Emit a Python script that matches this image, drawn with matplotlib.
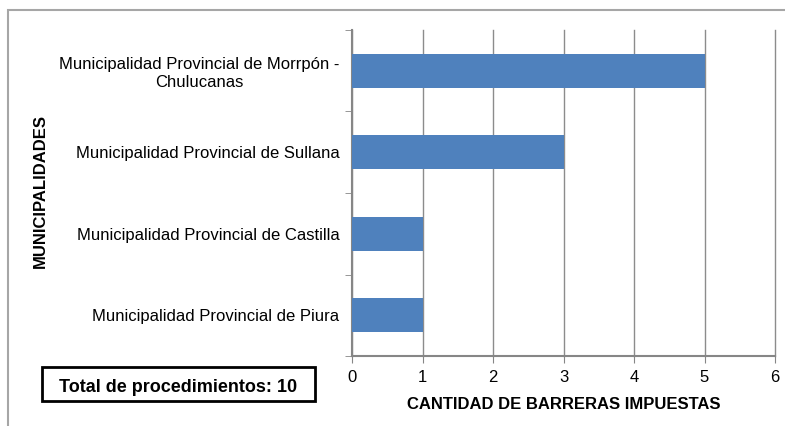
import matplotlib.pyplot as plt
from matplotlib.patches import Rectangle

plt.rcParams['font.family'] = ['Liberation Sans', 'DejaVu Sans']

# datos
municipalidades = [
    "Municipalidad Provincial de Piura",
    "Municipalidad Provincial de Castilla",
    "Municipalidad Provincial de Sullana",
    "Municipalidad Provincial de Morrpón -\nChulucanas",
]
barreras = [1, 1, 3, 5]
total_texto = "Total de procedimientos: 10"

W, H = 785, 426
fig = plt.figure(figsize=(W / 100, H / 100), dpi=100)
ax = fig.add_axes([352 / W, 1 - 356 / H, 423 / W, 326 / H])

pos = list(range(len(municipalidades)))
ax.barh(pos, barreras, height=0.42, color='#4F81BD', zorder=3)

ax.set_xlim(0, 6)
ax.set_ylim(-0.5, len(municipalidades) - 0.5)
ax.set_xticks(range(0, 7))
ax.tick_params(axis='x', length=5, color='#868686', labelsize=12, pad=5)
ax.grid(axis='x', color='#8C8C8C', linewidth=1, zorder=0)
for gl in ax.get_xgridlines():
    gl.set_clip_on(False)

# etiquetas del eje y entre marcas de separación
ax.set_yticks(pos)
ax.set_yticklabels(municipalidades, fontsize=12, multialignment='center')
ax.tick_params(axis='y', which='major', length=0, pad=9)
ax.set_yticks([p - 0.5 for p in pos] + [len(pos) - 0.5], minor=True)
ax.tick_params(axis='y', which='minor', length=5, color='#868686')

for s in ['top', 'right']:
    ax.spines[s].set_visible(False)
for s in ['left', 'bottom']:
    ax.spines[s].set_color('#868686')
    ax.spines[s].set_linewidth(1.5)

ax.set_xlabel("CANTIDAD DE BARRERAS IMPUESTAS", fontsize=12, fontweight='bold', labelpad=9)
fig.text(40 / W, 1 - 191 / H, "MUNICIPALIDADES", rotation=90, fontsize=12,
         fontweight='bold', ha='center', va='center')

# cuadro del total
fig.patches.append(Rectangle((42 / W, 1 - 401 / H), 273 / W, 34 / H, transform=fig.transFigure,
                             facecolor='white', edgecolor='black', linewidth=2))
fig.text(178 / W, 1 - 392 / H, total_texto, fontsize=13, fontweight='bold',
         ha='center', va='baseline')

# borde exterior del gráfico
fig.patches.append(Rectangle((8 / W, -0.1), 1.1, 1 - 10 / H + 0.1, transform=fig.transFigure,
                             fill=False, edgecolor='#A6A6A6', linewidth=1.5))

fig.savefig('out.png', dpi=100)
